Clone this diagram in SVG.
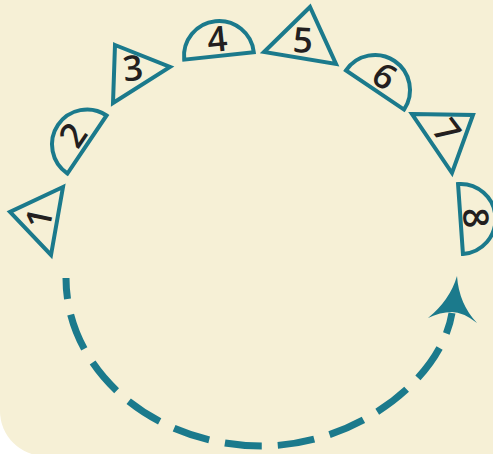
<svg xmlns="http://www.w3.org/2000/svg" width="493" height="454" viewBox="0 0 493 454">
<style>
.shape{fill:none;stroke:#1b7a8c;stroke-width:4;stroke-linejoin:miter}
.num{font-family:"Open Sans","Noto Sans",sans-serif;font-size:35px;font-weight:600;fill:#231f20;text-anchor:middle}
.conn{fill:none;stroke:#1b7a8c;stroke-width:7;stroke-dasharray:37 16;stroke-dashoffset:16}
.head{fill:#1b7a8c}
</style>
<defs>
<path id="half" d="M -35 0 A 35 35 0 0 1 35 0 Z"/>
</defs>
<rect x="0" y="-60" width="560" height="516" rx="45" fill="#f6f0d6"/>
<g id="connectors">
<path class="conn" d="M 66 278 C 66 371 154 446 262 446 C 355 446 441 380 452 313"/>
<path class="head" d="M 457 276 Q 459 304 477 323 Q 463 312 452 312 Q 440 312 428 318 Q 450 300 457 276 Z"/>
</g>
<g id="node1">
<polygon class="shape" points="63,187 10,212 51,255"/>
<text class="num" transform="translate(39,218) rotate(-78)" y="12.5">1</text>
</g>
<g id="node2" transform="translate(87,144.5) rotate(-56)">
<use href="#half" class="shape"/>
<text class="num" y="-4.5">2</text>
</g>
<g id="node3">
<polygon class="shape" points="115,45 170,67 113,103"/>
<text class="num" transform="translate(133,68) rotate(-6)" y="12.5">3</text>
</g>
<g id="node4" transform="translate(219,56) rotate(-6)">
<use href="#half" class="shape"/>
<text class="num" y="-4.5">4</text>
</g>
<g id="node5">
<polygon class="shape" points="310,7 264,52 336,64"/>
<text class="num" transform="translate(303,40) rotate(3)" y="12.5">5</text>
</g>
<g id="node6" transform="translate(375,90) rotate(34)">
<use href="#half" class="shape"/>
<text class="num" y="-4.5">6</text>
</g>
<g id="node7">
<polygon class="shape" points="412,114 473,115 452,173"/>
<text class="num" transform="translate(447,131) rotate(53)" y="12.5">7</text>
</g>
<g id="node8" transform="translate(460.5,219) rotate(86)">
<use href="#half" class="shape"/>
<text class="num" y="-3">8</text>
</g>
</svg>
